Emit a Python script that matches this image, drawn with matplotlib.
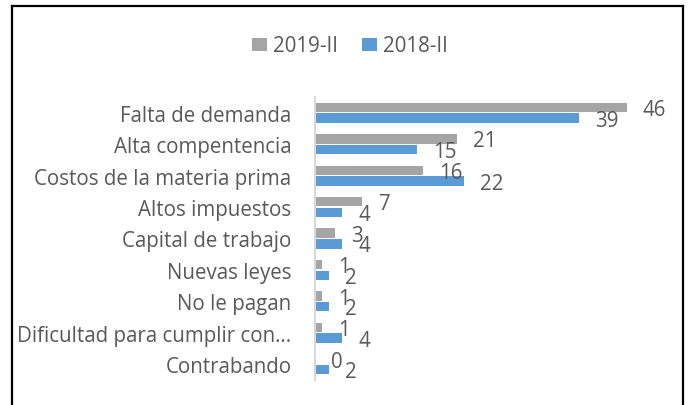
import numpy as np
import matplotlib
matplotlib.use('Agg')
import matplotlib.pyplot as plt
from matplotlib.lines import Line2D

plt.rcParams['font.family'] = ['Open Sans', 'DejaVu Sans']

categorias = ['Falta de demanda', 'Alta compentencia', 'Costos de la materia prima',
              'Altos impuestos', 'Capital de trabajo', 'Nuevas leyes', 'No le pagan',
              'Dificultad para cumplir con…', 'Contrabando']
valores_2019 = [46, 21, 16, 7, 3, 1, 1, 1, 0]
valores_2018 = [39, 15, 22, 4, 4, 2, 2, 4, 2]
series = ['2019-II', '2018-II']

gris = '#A5A5A5'
azul = '#5B9BD5'
texto = '#595959'
fs = 14.8

W, H = 690, 406
fig = plt.figure(figsize=(W / 100, H / 100), dpi=100)

# area del grafico en pixeles
x0, x1 = 315, 315 + 6.78 * 50
y0, y1 = 98, 381
ax = fig.add_axes([x0 / W, 1 - y1 / H, (x1 - x0) / W, (y1 - y0) / H])

y = np.arange(len(categorias))
alto = 0.3
b1 = ax.barh(y - 0.17, valores_2019, height=alto, color=gris, label=series[0])
b2 = ax.barh(y + 0.17, valores_2018, height=alto, color=azul, label=series[1])

for barras, vals in [(b1, valores_2019), (b2, valores_2018)]:
    for rect, v in zip(barras, vals):
        ax.annotate(str(v), (v, rect.get_y() + rect.get_height() / 2),
                    xytext=(11.5, -1.5), textcoords='offset points',
                    ha='left', va='center', fontsize=fs, color=texto)

ax.set_xlim(0, 50)
ax.set_ylim(len(categorias) - 0.5, -0.5)
ax.set_yticks(y)
ax.set_yticklabels(categorias, fontsize=fs, color=texto)
ax.set_xticks([])
ax.tick_params(axis='y', length=0, pad=17)
for s in ['top', 'right', 'bottom']:
    ax.spines[s].set_visible(False)
ax.spines['left'].set_color('#D9D9D9')
ax.spines['left'].set_linewidth(1.5)

leg = fig.legend(handles=[b1, b2], labels=series, loc='center',
                 bbox_to_anchor=(350 / W, 1 - 47 / H), ncol=2, frameon=False,
                 fontsize=fs, handlelength=0.7, handleheight=0.6,
                 handletextpad=0.3, columnspacing=1.2)
for t in leg.get_texts():
    t.set_color(texto)

# marco negro
lw = 1.6
fig.add_artist(Line2D([11.5 / W, 11.5 / W], [0, 1 - 7 / H], color='black', lw=lw))
fig.add_artist(Line2D([682.5 / W, 682.5 / W], [0, 1 - 7 / H], color='black', lw=lw))
fig.add_artist(Line2D([11.5 / W, 682.5 / W], [1 - 7 / H, 1 - 7 / H], color='black', lw=lw))

fig.savefig('out.png', dpi=100)
